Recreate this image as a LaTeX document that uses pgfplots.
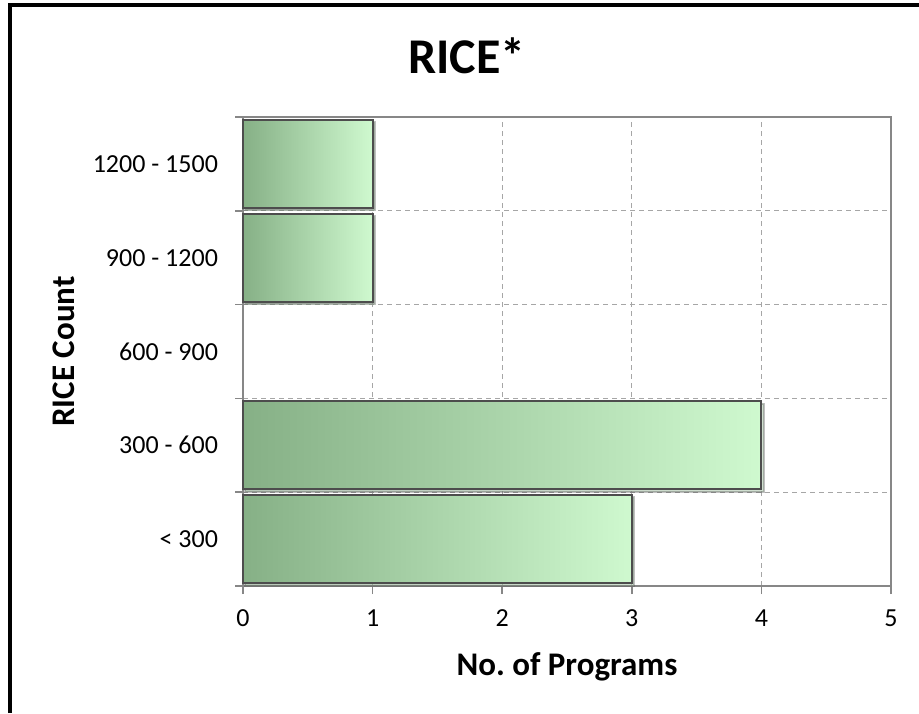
\documentclass[border=0pt]{standalone}
\usepackage{pgfplots}
\pgfplotsset{compat=1.18}
\usepackage{fontspec}
\setmainfont{Carlito}
\usetikzlibrary{shadows}
\frenchspacing

\definecolor{axisgray}{HTML}{878787}
\definecolor{gridgray}{HTML}{A6A6A6}
\definecolor{barleft}{HTML}{86B086}
\definecolor{barmid}{HTML}{B2E2B2}
\definecolor{barright}{HTML}{CFF9CF}
\definecolor{baredge}{HTML}{4D4D4D}

\pgfplotsset{
  ricebar/.style={
    xbar, bar width=0.94, bar shift=0pt,
    draw=baredge, line width=1pt,
    left color=barleft, middle color=barmid, right color=barright,
    drop shadow={shadow xshift=1.2pt, shadow yshift=-1.2pt, opacity=0.35},
  },
}

\begin{document}
\begin{tikzpicture}
  % page size (1 px = 0.5 pt)
  \useasboundingbox (0pt,0pt) rectangle (459.5pt,-356.5pt);
  % chart frame (top and left edges visible)
  \draw[line width=2pt, black] (5pt,-356.5pt) -- (5pt,-2.5pt) -- (459.5pt,-2.5pt);

  \node[font=\fontsize{25}{30}\selectfont\bfseries] at (233.5pt,-28pt) {RICE*};

  \begin{axis}[
    at={(121.5pt,-293pt)}, anchor=south west,
    scale only axis, width=324pt, height=234.5pt,
    xmin=0, xmax=5, ymin=-0.5, ymax=4.5,
    xtick={0,1,2,3,4,5},
    ytick={0,1,2,3,4},
    yticklabels={< 300, 300 - 600, 600 - 900, 900 - 1200, 1200 - 1500},
    minor ytick={-0.5,0.5,1.5,2.5,3.5,4.5},
    tick align=outside,
    xtick pos=bottom, ytick pos=left,
    major tick length=4pt, minor tick length=4pt,
    y tick style={draw=none},
    minor y tick style={draw=axisgray, line width=0.8pt},
    x tick style={draw=axisgray, line width=0.8pt},
    xmajorgrids, yminorgrids,
    major grid style={gridgray, dashed, line width=0.5pt, dash pattern=on 2.5pt off 2pt},
    minor grid style={gridgray, dashed, line width=0.5pt, dash pattern=on 2.5pt off 2pt},
    axis line style={axisgray, line width=0.9pt},
    /pgf/number format/assume math mode=true,
    tick label style={font=\fontsize{13}{15}\selectfont},
    yticklabel style={xshift=-5pt},
    xticklabel style={yshift=-4.5pt},
    xlabel={No. of Programs},
    ylabel={RICE Count},
    label style={font=\fontsize{16.5}{19}\selectfont\bfseries},
    xlabel style={at={(axis description cs:0.5,-0.1727)}, anchor=center},
    ylabel style={at={(axis description cs:-0.276,0.5)}, anchor=center},
    clip=false,
  ]
    % programs per RICE-count band (600 - 900 has none)
    \addplot[ricebar] coordinates {(3,0)};
    \addplot[ricebar] coordinates {(4,1)};
    \addplot[ricebar] coordinates {(1,3)};
    \addplot[ricebar] coordinates {(1,4)};
  \end{axis}
\end{tikzpicture}
\end{document}
